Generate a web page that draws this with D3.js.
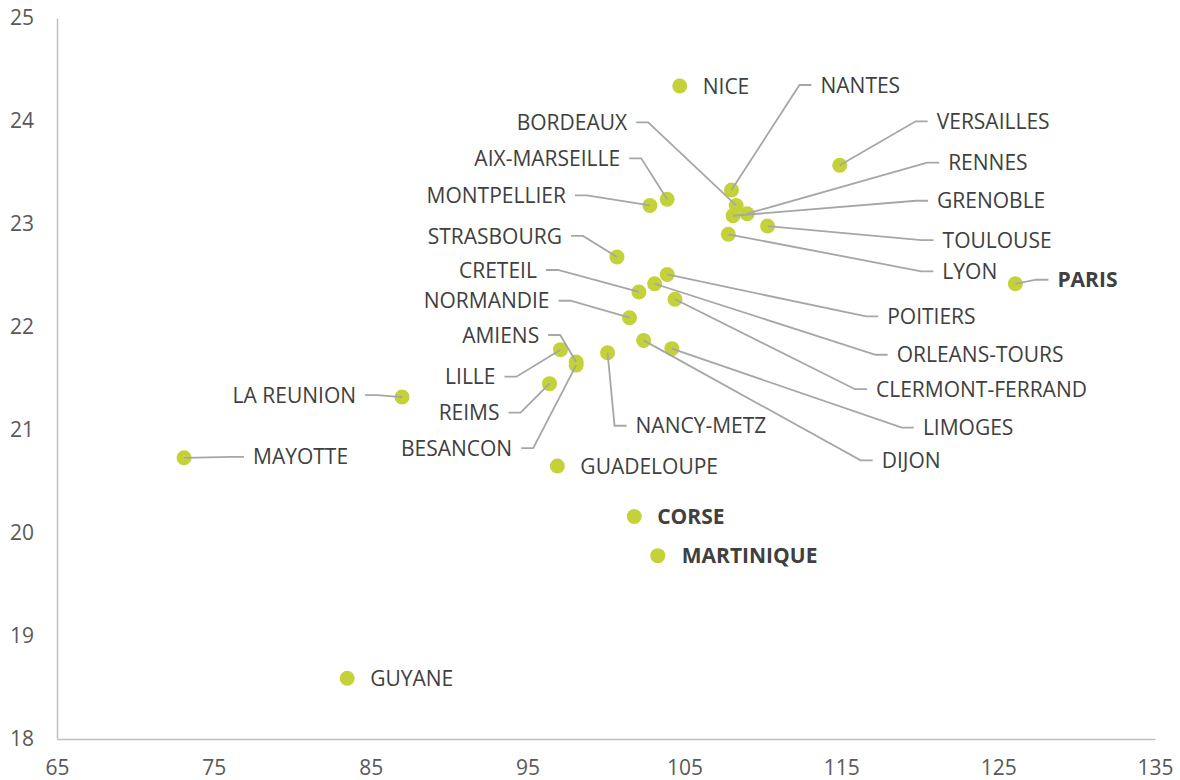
<!DOCTYPE html>
<html>
<head>
<meta charset="utf-8">
<script src="https://cdn.jsdelivr.net/npm/d3@7"></script>
<style>
  body { margin: 0; background: #fff; }
  svg { display: block; font-family: "Open Sans", sans-serif; }
</style>
</head>
<body>
<script>
// academies, x and y values
var regions = ["NICE", "NANTES", "VERSAILLES", "BORDEAUX", "RENNES", "GRENOBLE", "TOULOUSE", "LYON",
  "AIX-MARSEILLE", "MONTPELLIER", "STRASBOURG", "POITIERS", "ORLEANS-TOURS", "CRETEIL", "CLERMONT-FERRAND",
  "NORMANDIE", "DIJON", "LIMOGES", "NANCY-METZ", "AMIENS", "BESANCON", "LILLE", "REIMS", "LA REUNION",
  "MAYOTTE", "GUADELOUPE", "CORSE", "MARTINIQUE", "GUYANE", "PARIS"];
var xValues = [104.7, 108.0, 114.9, 108.3, 109.0, 108.1, 110.3, 107.8,
  103.9, 102.8, 100.7, 103.9, 103.1, 102.1, 104.4,
  101.5, 102.4, 104.2, 100.1, 98.1, 98.1, 97.1, 96.4, 87.0,
  73.1, 96.9, 101.8, 103.3, 83.5, 126.1];
var yValues = [24.34, 23.33, 23.57, 23.18, 23.10, 23.08, 22.98, 22.90,
  23.24, 23.18, 22.68, 22.51, 22.42, 22.34, 22.27,
  22.09, 21.87, 21.79, 21.75, 21.66, 21.63, 21.78, 21.45, 21.32,
  20.73, 20.65, 20.16, 19.78, 18.59, 22.42];
var boldRegions = ["PARIS", "CORSE", "MARTINIQUE"];
var xTicks = [65, 75, 85, 95, 105, 115, 125, 135];
var yTicks = [18, 19, 20, 21, 22, 23, 24, 25];

// label placement (pixel offsets from the point, text anchor)
var labelPos = {
  "NICE": [23, 0, "start"], "NANTES": [89, -105, "start"], "VERSAILLES": [97, -44, "start"],
  "BORDEAUX": [-109, -83, "end"], "RENNES": [201, -51, "start"], "GRENOBLE": [204, -15, "start"],
  "TOULOUSE": [175, 14, "start"], "LYON": [214, 37, "start"], "AIX-MARSEILLE": [-47, -41, "end"],
  "MONTPELLIER": [-84, -10, "end"], "STRASBOURG": [-55, -21, "end"], "POITIERS": [220, 42, "start"],
  "ORLEANS-TOURS": [242, 71, "start"], "CRETEIL": [-102, -22, "end"], "CLERMONT-FERRAND": [201, 90, "start"],
  "NORMANDIE": [-80, -17, "end"], "DIJON": [238, 120, "start"], "LIMOGES": [251, 79, "start"],
  "NANCY-METZ": [28, 73, "start"], "AMIENS": [-37, -27, "end"], "BESANCON": [-64, 83, "end"],
  "LILLE": [-65, 27, "end"], "REIMS": [-50, 29, "end"], "LA REUNION": [-46, -2, "end"],
  "MAYOTTE": [69, -1, "start"], "GUADELOUPE": [23, 0, "start"], "CORSE": [23, 0, "start"],
  "MARTINIQUE": [24, 0, "start"], "GUYANE": [23, 0, "start"], "PARIS": [42, -4, "start"]
};

var data = regions.map(function(r, i) { return {name: r, x: xValues[i], y: yValues[i]}; });

var svg = d3.select("body").append("svg").attr("width", 1180).attr("height", 780);

var x = d3.scaleLinear().domain([65, 135]).range([57, 1155]);
var y = d3.scaleLinear().domain([18, 25]).range([739, 18]);

var gx = svg.append("g").attr("transform", "translate(0,739)")
  .call(d3.axisBottom(x).tickValues(xTicks).tickFormat(d3.format("d")).tickSize(0).tickSizeOuter(0).tickPadding(21));
var gy = svg.append("g").attr("transform", "translate(57,0)")
  .call(d3.axisLeft(y).tickValues(yTicks).tickFormat(d3.format("d")).tickSize(0).tickSizeOuter(0).tickPadding(23));

[gx, gy].forEach(function(g) {
  g.select(".domain").attr("stroke", "#bfbfbf").attr("stroke-width", 1.5);
  g.selectAll("text").attr("fill", "#595959").style("font-size", "21px").style("font-family", "'Open Sans', sans-serif");
});

svg.append("g").selectAll("circle")
  .data(data)
  .join("circle")
  .attr("cx", function(d) { return x(d.x); })
  .attr("cy", function(d) { return y(d.y); })
  .attr("r", 7.5)
  .attr("fill", "#c4d23a");

// leader lines
var line = d3.line();
svg.append("g").selectAll("path")
  .data(data.filter(function(d) {
    var p = labelPos[d.name];
    return Math.abs(p[0]) > 30 || Math.abs(p[1]) > 8;
  }))
  .join("path")
  .attr("fill", "none")
  .attr("stroke", "#a6a6a6")
  .attr("stroke-width", 1.8)
  .attr("d", function(d) {
    var p = labelPos[d.name];
    var px = x(d.x), py = y(d.y);
    var tx = px + p[0], ty = py + p[1];
    var s = p[2] == "start" ? -1 : 1;
    return line([[px, py], [tx + s * 21, ty], [tx + s * 9, ty]]);
  });

svg.append("g").selectAll("text")
  .data(data)
  .join("text")
  .attr("x", function(d) { return x(d.x) + labelPos[d.name][0]; })
  .attr("y", function(d) { return y(d.y) + labelPos[d.name][1]; })
  .attr("dy", "0.36em")
  .attr("text-anchor", function(d) { return labelPos[d.name][2]; })
  .attr("fill", "#404040")
  .style("font-size", "21px")
  .style("font-weight", function(d) { return boldRegions.indexOf(d.name) >= 0 ? "bold" : "normal"; })
  .text(function(d) { return d.name; });
</script>
</body>
</html>
